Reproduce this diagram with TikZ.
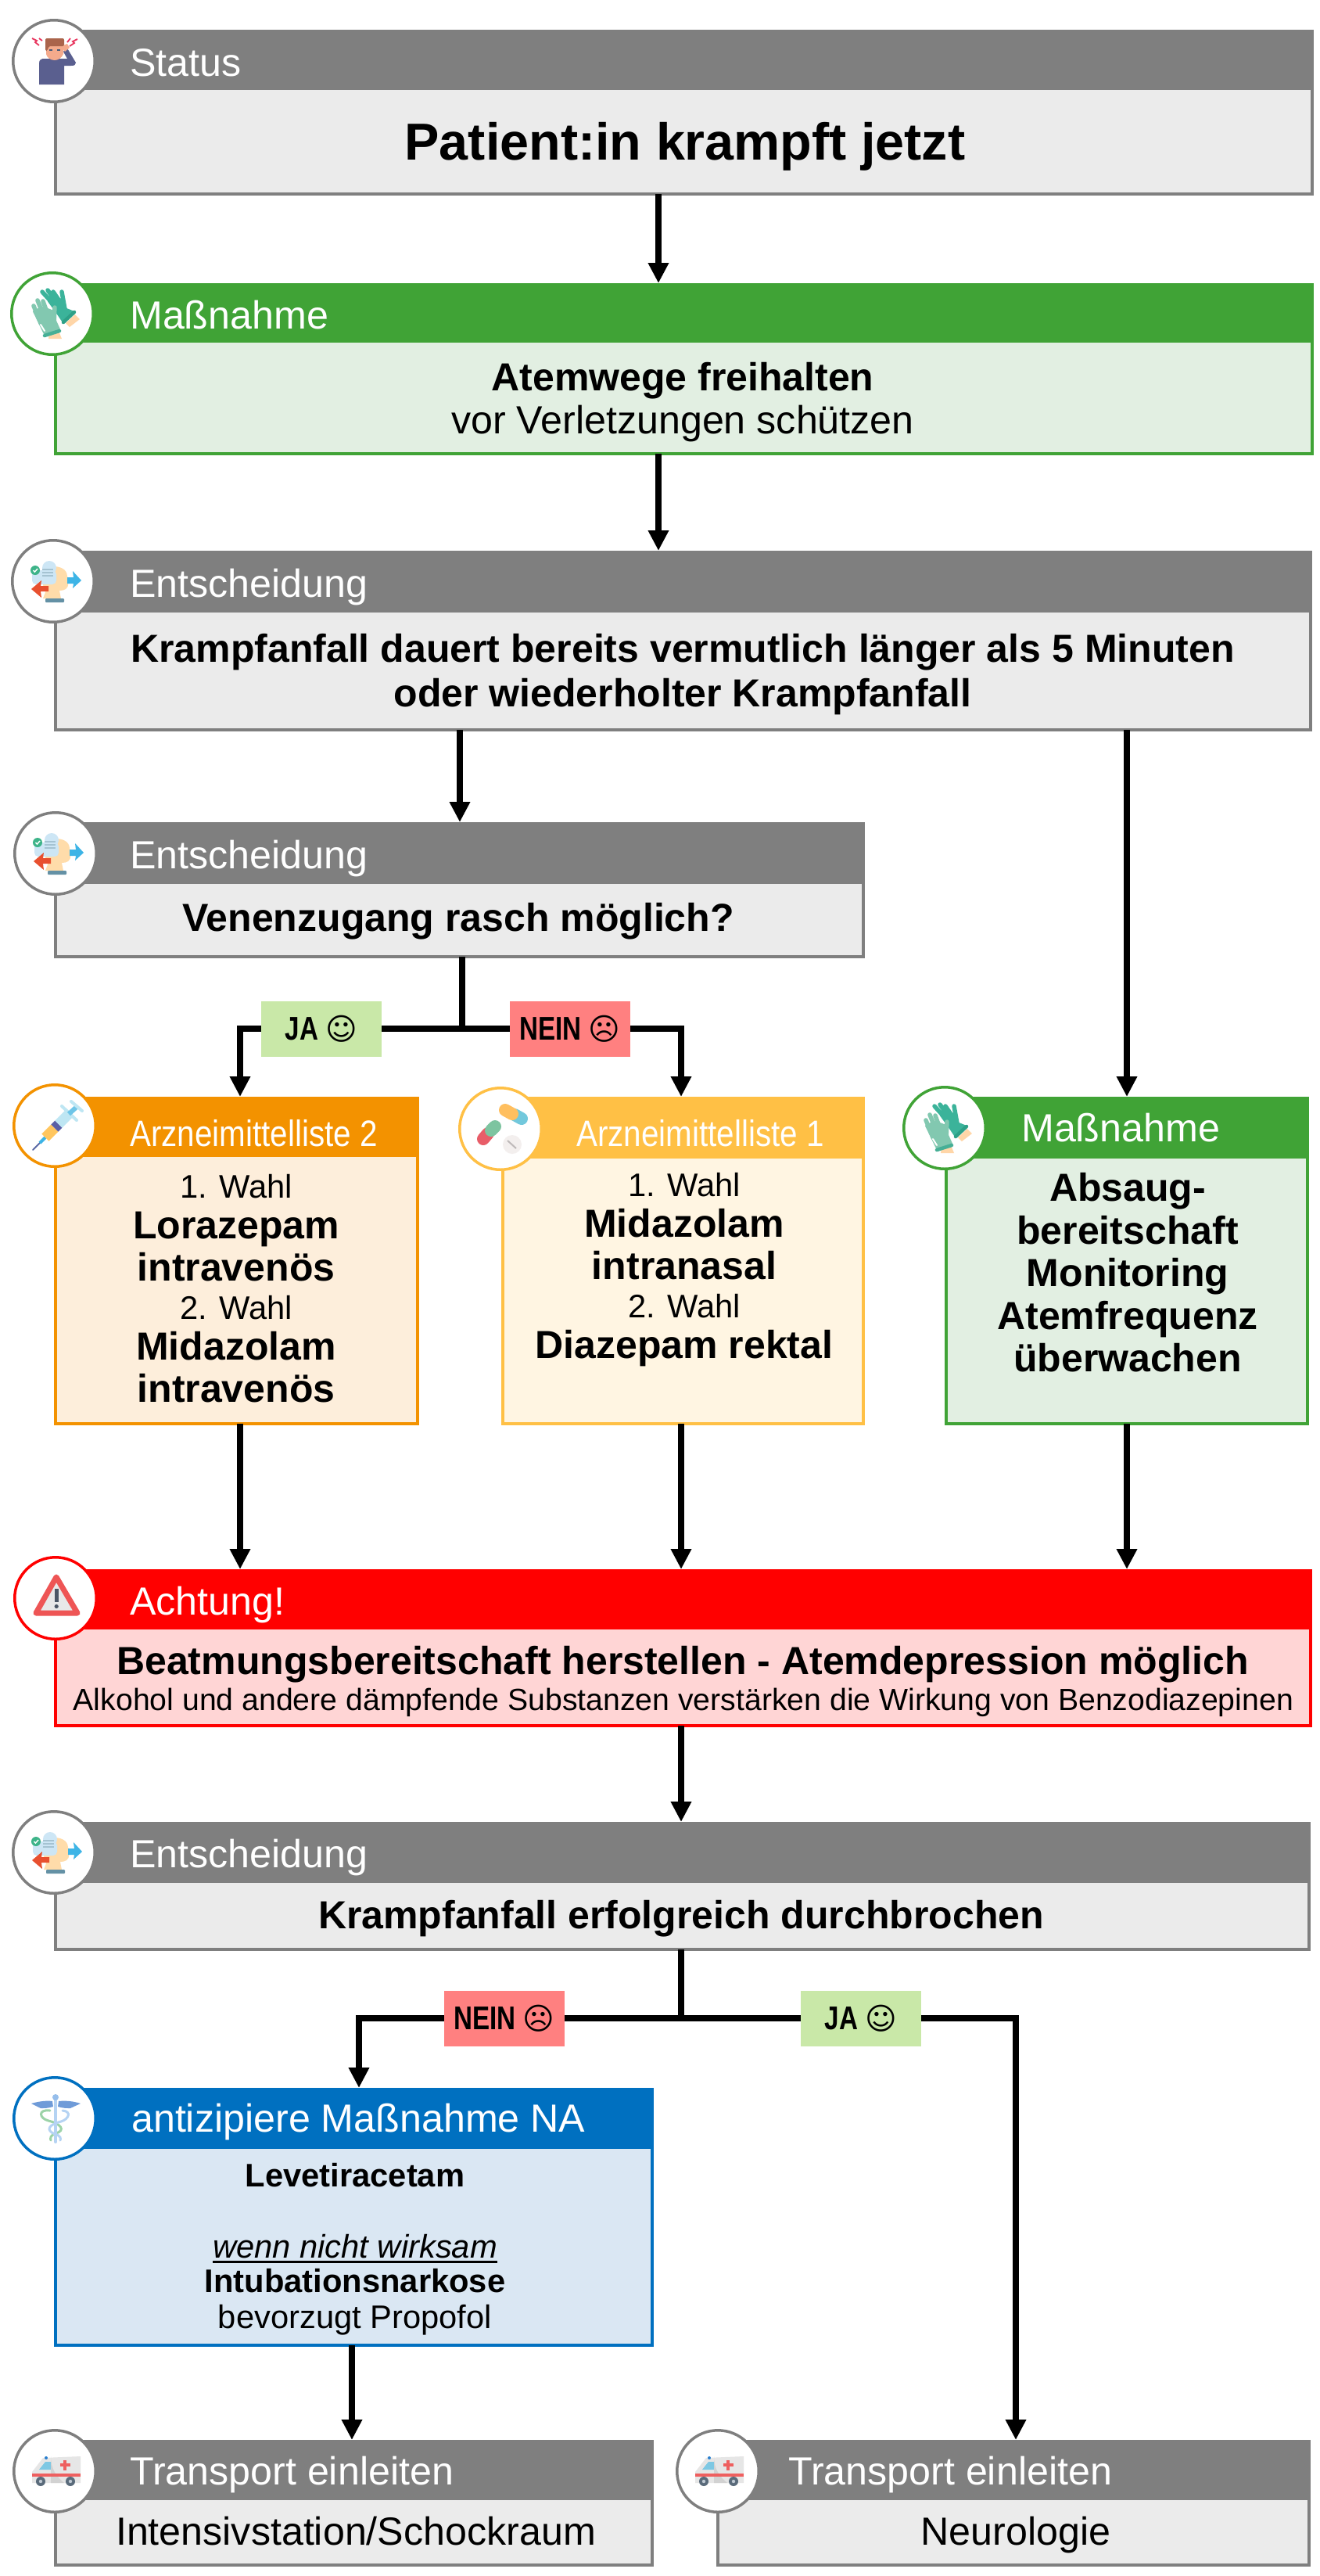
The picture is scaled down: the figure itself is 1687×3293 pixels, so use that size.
\documentclass[tikz,border=0pt]{standalone}
\usepackage{fontspec}
\setmainfont{Liberation Sans}
\newfontfamily\narrowfont[FakeStretch=0.79]{Liberation Sans}
\newfontfamily\titlenarrow[FakeStretch=0.86]{Liberation Sans}
\newfontfamily\symbolfont{DejaVu Sans}
\usetikzlibrary{arrows.meta}
\newsavebox\ulbox
\newcommand\thickul[1]{\sbox\ulbox{#1}\usebox\ulbox\hspace{-\wd\ulbox}\rule[-7pt]{\wd\ulbox}{2.6pt}}
\definecolor{ghead}{HTML}{7F7F7F}\definecolor{gbody}{HTML}{EBEBEB}
\definecolor{mhead}{HTML}{40A336}\definecolor{mbody}{HTML}{E2EFE2}
\definecolor{ohead}{HTML}{F39200}\definecolor{obody}{HTML}{FDEEDB}
\definecolor{ahead}{HTML}{FFC045}\definecolor{abody}{HTML}{FFF5E2}
\definecolor{rhead}{HTML}{FF0000}\definecolor{rbody}{HTML}{FFD5D5}
\definecolor{bhead}{HTML}{0070C0}\definecolor{bbody}{HTML}{DAE7F3}
\definecolor{jacol}{HTML}{C9E8A8}\definecolor{neincol}{HTML}{FF8080}
\tikzset{
  ttl/.style={font=\fontsize{50.2}{55}\selectfont,text=white,inner sep=0pt,anchor=base west},
  ttls/.style={font=\fontsize{47}{50}\selectfont\titlenarrow,text=white,inner sep=0pt,anchor=base west},
  bigb/.style={font=\fontsize{50}{55}\selectfont\bfseries,inner sep=0pt,anchor=base},
  bigr/.style={font=\fontsize{50.2}{55}\selectfont,inner sep=0pt,anchor=base},
  midb/.style={font=\fontsize{41.7}{46}\selectfont\bfseries,inner sep=0pt,anchor=base},
  midr/.style={font=\fontsize{41.7}{46}\selectfont,inner sep=0pt,anchor=base},
  ln/.style={line width=8pt,line cap=butt},
  arr/.style={line width=8pt,-{Triangle[length=26pt,width=25pt]},shorten >=2pt},
  yn/.style={minimum width=154pt,minimum height=71pt,inner sep=0pt,outer sep=0pt,font=\fontsize{42}{46}\selectfont\narrowfont\bfseries},
  rnd/.style={line cap=round,line join=round},
}
\newcommand\flowbox[8]{%
  \node[draw=#7,fill=#8,line width=4pt,inner sep=0pt,outer sep=0pt,minimum width={(#3)-(#2)},minimum height={(#6)-(#4)}] (#1) at ({((#2)+(#3))/2},{((#4)+(#6))/2}) {};
  \node[fill=#7,inner sep=0pt,outer sep=0pt,minimum width={(#3)-(#2)+4},minimum height={(#5)-(#4)}] (#1h) at ({((#2)+(#3))/2},{((#4)+(#5))/2}) {};
}
\newcommand\badge[4]{\node[circle,draw=#4,fill=white,line width=3.5pt,inner sep=0pt,minimum size=104.5pt] (#1c) at (#2,#3) {};}
\newcommand\iconHeadache{%
  \fill[rnd,color={rgb,255:red,90;green,95;blue,143}] (-19,30) -- (-19,3) .. controls (-19,-2) and (-16,-3) .. (-12,-3) -- (12,-3) -- (16,-3) -- (17,-3) -- (12,-12) -- (16,-18) -- (28,2) .. controls (28,5) and (26,6) .. (22,6) -- (13,6) -- (13,30) -- cycle;
  \fill[color={rgb,255:red,244;green,170;blue,140}] (-10,-22) -- (12,-22) -- (12,-9) .. controls (10,-4) and (5,-1) .. (1,-1) .. controls (-4,-1) and (-9,-4) .. (-10,-9) -- cycle;
  \fill[color={rgb,255:red,244;green,170;blue,140}] (9,-19) -- (17,-22) -- (20,-17) -- (14,-12) -- cycle;
  \fill[rounded corners=2pt,color={rgb,255:red,170;green,100;blue,75}] (-11,-29) -- (13,-29) -- (13,-19) -- (-7,-19) -- (-8,-13) -- (-11,-13) -- cycle;
  \fill[color={rgb,255:red,70;green,90;blue,120}] (-6,-15) rectangle (-2,-13);\fill[color={rgb,255:red,70;green,90;blue,120}] (4,-15) rectangle (8,-13);
  \draw[line width=1.8pt,color={rgb,255:red,232;green,55;blue,95}] (-28,-29) -- (-22,-26) -- (-24,-24) -- (-19,-20);
  \draw[line width=1.8pt,color={rgb,255:red,232;green,55;blue,95}] (-19,-29) -- (-15,-26);
  \draw[line width=1.8pt,color={rgb,255:red,232;green,55;blue,95}] (30,-28) -- (24,-25) -- (26,-23) -- (20,-19);
  \draw[line width=1.8pt,color={rgb,255:red,232;green,55;blue,95}] (21,-29) -- (17,-24);
}
\newcommand\iconGloves{%
  \fill[color={rgb,255:red,255;green,214;blue,168}] (29,1) -- (35,7) -- (22,17) -- (17,12) -- cycle;
  \fill[color={rgb,255:red,255;green,214;blue,168}] (-5,32) -- (12,32) -- (8,22) -- (-4,26) -- cycle;
  \filldraw[rnd,color={rgb,255:red,59;green,179;blue,154},line width=2pt] (-5,-16) -- (8,-14) -- (18,-6) -- (28,-2) -- (14,11) -- (8,2) -- cycle;
  \draw[rnd,line width=5.5pt,color={rgb,255:red,59;green,179;blue,154}] (-13,-28) -- (5,-8) (-6,-30) -- (9,-10) (1,-28) -- (12,-12) (12,-28) -- (16,-6);
  \draw[line width=4.5pt,line cap=round,color={rgb,255:red,45;green,160;blue,135}] (28,-2) -- (14,11);
  \filldraw[rnd,color={rgb,255:red,130;green,200;blue,176},line width=2pt] (-24,-3) -- (-10,26) -- (9,20) -- (4,9) -- (4,-2) -- (-6,-6) -- (-14,-8) -- cycle;
  \draw[rnd,line width=5.5pt,color={rgb,255:red,130;green,200;blue,176}] (-24,-10) -- (-15,12) (-19,-17) -- (-9,8) (-12,-16) -- (-4,6) (3,-8) -- (2,10);
  \draw[line width=2pt,line cap=round,white] (-15,14) -- (-10,22);
  \draw[line width=4.5pt,line cap=round,color={rgb,255:red,70;green,175;blue,150}] (-10,28) -- (9,22);
}
\newcommand\iconDecide{%
  \fill[color={rgb,255:red,255;green,220;blue,170}] (-13,22) -- (10,22) -- (8,12) .. controls (14,12) and (20,10) .. (19,2) -- (23,0) -- (18,-6) .. controls (18,-16) and (8,-19) .. (0,-19) .. controls (-10,-19) and (-15,-10) .. (-14,0) .. controls (-13,6) and (-11,10) .. (-10,14) -- cycle;
  \fill[rounded corners=1pt,color={rgb,255:red,100;green,145;blue,165}] (-10,22) rectangle (14,27);
  \fill[rounded corners=5pt,color={rgb,255:red,205;green,230;blue,245}] (-27,-14) rectangle (4,4);
  \fill[color={rgb,255:red,205;green,230;blue,245}] (-5,-17) circle (9);
  \fill[color={rgb,255:red,62;green,180;blue,137}] (-23,-14) circle (6);
  \draw[white,line width=1.4pt] (-25.5,-14) -- (-23.5,-12) -- (-20,-16);
  \draw[line width=1.2pt,color={rgb,255:red,165;green,195;blue,210}] (-14,-15) -- (0,-15) (-14,-11) -- (0,-11) (-14,-7) -- (0,-7);
  \fill[color={rgb,255:red,61;green,180;blue,230}] (18,-5) -- (26,-5) -- (25,-13) -- (36,-1) -- (25,9) -- (26,3) -- (18,3) -- cycle;
  \fill[color={rgb,255:red,232;green,80;blue,47}] (-6,6) -- (-16,6) -- (-15,-1) -- (-28,10) -- (-15,21) -- (-16,13) -- (-6,13) -- cycle;
}
\newcommand\iconSyringe{%
  \draw[line width=2pt,line cap=round,color={rgb,255:red,90;green,105;blue,165}] (-28,31) -- (-18,21);
  \draw[line width=4pt,color={rgb,255:red,61;green,180;blue,230}] (-19,22) -- (-12,15);
  \draw[line width=13pt,color={rgb,255:red,255;green,198;blue,95}] (-12,15) -- (0,3);
  \draw[line width=13pt,color={rgb,255:red,90;green,95;blue,165}] (0,3) -- (5,-2);
  \draw[line width=13pt,color={rgb,255:red,190;green,230;blue,243}] (5,-2) -- (20,-17);
  \draw[line width=4pt,line cap=round,color={rgb,255:red,190;green,230;blue,243}] (9,-25) -- (28,-7);
  \draw[line width=6pt,color={rgb,255:red,110;green,197;blue,232}] (18,-15) -- (28,-24);
  \draw[line width=4pt,line cap=round,color={rgb,255:red,190;green,230;blue,243}] (21,-31) -- (35,-19);
}
\newcommand\iconPills{%
  \draw[line width=16pt,line cap=round,color={rgb,255:red,114;green,200;blue,220}] (27,-13) -- (18,-18);
  \draw[line width=16pt,line cap=round,color={rgb,255:red,255;green,191;blue,95}] (6,-24) -- (15,-19);
  \draw[line width=16pt,line cap=round,color={rgb,255:red,232;green,93;blue,104}] (-22,13) -- (-16,6);
  \draw[line width=16pt,line cap=round,color={rgb,255:red,125;green,196;blue,160}] (-7,-3) -- (-12,2);
  \fill[color={rgb,255:red,243;green,239;blue,238}] (15,20) circle (12);
  \draw[line width=2pt,color={rgb,255:red,190;green,185;blue,185}] (9,15) -- (20,25);
}
\newcommand\iconWarn{%
  \draw[line width=7pt,line join=round,draw={rgb,255:red,238;green,85;blue,85},fill={rgb,255:red,232;green,232;blue,232}] (1,-27) -- (-25,19) -- (28,19) -- cycle;
  \fill[color={rgb,255:red,74;green,85;blue,100}] (-1.3,-12) rectangle (3.7,5);
  \fill[color={rgb,255:red,74;green,85;blue,100}] (1.2,10.5) circle (2.6);
}
\newcommand\iconCaduceus{%
  \fill[color={rgb,255:red,111;green,155;blue,216}] (-30,-19) .. controls (-20,-22) and (-10,-23) .. (-3,-22) -- (-2,-15) .. controls (-8,-13) and (-14,-13) .. (-18,-13) -- cycle;
  \fill[color={rgb,255:red,111;green,155;blue,216}] (33,-19) .. controls (24,-22) and (14,-23) .. (5,-22) -- (4,-15) .. controls (10,-13) and (16,-13) .. (20,-13) -- cycle;
  \draw[line width=3pt,line cap=round,color={rgb,255:red,156;green,211;blue,168}] (-6,-10) .. controls (-22,-12) and (-20,0) .. (-8,3) .. controls (8,7) and (14,15) .. (2,19) .. controls (-6,21) and (-6,26) .. (-5,28);
  \draw[line width=3pt,line cap=round,color={rgb,255:red,181;green,211;blue,243}] (10,-10) .. controls (22,-9) and (18,1) .. (8,4) .. controls (-8,8) and (-12,15) .. (0,20) .. controls (8,22) and (8,26) .. (7,28);
  \draw[line width=4pt,line cap=round,color={rgb,255:red,181;green,211;blue,243}] (1,-24) -- (1,30);
  \fill[color={rgb,255:red,150;green,190;blue,235}] (1,-27) circle (4);
}
\newcommand\iconAmbulance{%
  \fill[color={rgb,255:red,230;green,230;blue,230}] (-15,-17) -- (33,-19) -- (33,15) -- (-29,15) -- (-29,1) -- cycle;
  \fill[color={rgb,255:red,126;green,200;blue,227}] (-12,-12) -- (-5,-12) -- (-5,-2) -- (-20,-2) -- cycle;
  \fill[color={rgb,255:red,210;green,210;blue,210}] (-5,-19) .. controls (-5,-5) and (0,5) .. (12,15) -- (-5,15) -- cycle;
  \fill[color={rgb,255:red,238;green,95;blue,95}] (-29,3) rectangle (33,7);
  \fill[color={rgb,255:red,238;green,95;blue,95}] (6.5,-10) rectangle (19.5,-6);
  \fill[color={rgb,255:red,238;green,95;blue,95}] (11,-14.5) rectangle (15,-1.5);
  \fill[color={rgb,255:red,42;green,127;blue,207}] (-11,-17) circle (2);
  \fill[color={rgb,255:red,90;green,107;blue,123}] (-18,13) circle (6) (20,13) circle (6);
  \fill[color={rgb,255:red,190;green,200;blue,210}] (-18,13) circle (2.2) (20,13) circle (2.2);
}
\begin{document}
\begin{tikzpicture}[x=1pt,y=-1pt]
\path[use as bounding box,fill=white] (0,0) rectangle (1687,3293);

\flowbox{st}{71}{1678}{40}{115}{248}{ghead}{gbody}
\flowbox{ma}{71}{1678}{364}{438}{580}{mhead}{mbody}
\flowbox{en}{71}{1676}{706}{783}{933}{ghead}{gbody}
\flowbox{ve}{71}{1104}{1053}{1130}{1223}{ghead}{gbody}
\flowbox{alb}{71}{534}{1404}{1479}{1820}{ohead}{obody}
\flowbox{ala}{643}{1104}{1404}{1481}{1820}{ahead}{abody}
\flowbox{mr}{1210}{1672}{1404}{1481}{1820}{mhead}{mbody}
\flowbox{ac}{71}{1676}{2008}{2083}{2206}{rhead}{rbody}
\flowbox{ek}{71}{1674}{2331}{2407}{2492}{ghead}{gbody}
\flowbox{an}{71}{834}{2671}{2747}{2998}{bhead}{bbody}
\flowbox{tl}{71}{834}{3121}{3196}{3279}{ghead}{gbody}
\flowbox{tr}{918}{1674}{3121}{3196}{3279}{ghead}{gbody}

% connectors
\coordinate (xa) at (842,0);
\coordinate (xb) at (588,0);
\coordinate (xc) at (1441,0);
\coordinate (xd) at (307,0);
\coordinate (xe) at (871,0);
\coordinate (xf) at (459,0);
\coordinate (xg) at (1299,0);
\coordinate (xh) at (450,0);
\coordinate (ja) at (591,1315);
\coordinate (jb) at (871,2580);
\draw[arr] (xa |- st.south) -- (xa |- mah.north);
\draw[arr] (xa |- ma.south) -- (xa |- enh.north);
\draw[arr] (xb |- en.south) -- (xb |- veh.north);
\draw[arr] (xc |- en.south) -- (xc |- mrh.north);
\draw[ln] (ja |- ve.south) -- ([yshift=-4pt]ja);
\draw[arr] ([xshift=4pt]ja) -| (xd |- albh.north);
\draw[arr] ([xshift=-4pt]ja) -| (xe |- alah.north);
\draw[arr] (xd |- alb.south) -- (xd |- ach.north);
\draw[arr] (xe |- ala.south) -- (xe |- ach.north);
\draw[arr] (xc |- mr.south) -- (xc |- ach.north);
\draw[arr] (xe |- ac.south) -- (xe |- ekh.north);
\draw[ln] (jb |- ek.south) -- ([yshift=-4pt]jb);
\draw[arr] ([xshift=4pt]jb) -| (xf |- anh.north);
\draw[arr] ([xshift=-4pt]jb) -| (xg |- trh.north);
\draw[arr] (xh |- an.south) -- (xh |- tlh.north);

% yes/no labels
\node[yn,fill=jacol] (ja1) at (411,1315) {JA {\mdseries\symbolfont\fontsize{39}{40}\selectfont ☺}};
\node[yn,fill=neincol] (ne1) at (729,1315) {NEIN {\mdseries\symbolfont\fontsize{39}{40}\selectfont ☹}};
\node[yn,fill=neincol] (ne2) at (645,2580) {NEIN {\mdseries\symbolfont\fontsize{39}{40}\selectfont ☹}};
\node[yn,fill=jacol] (ja2) at (1101,2580) {JA {\mdseries\symbolfont\fontsize{39}{40}\selectfont ☺}};

% badges and icons
\badge{st}{69}{78}{ghead}
\begin{scope}[shift={(69,78)}]\iconHeadache\end{scope}
\badge{ma}{67}{401}{mhead}
\begin{scope}[shift={(67,401)}]\iconGloves\end{scope}
\badge{en}{68}{743}{ghead}
\begin{scope}[shift={(68,743)}]\iconDecide\end{scope}
\badge{ve}{71}{1091}{ghead}
\begin{scope}[shift={(71,1091)}]\iconDecide\end{scope}
\badge{alb}{70}{1439}{ohead}
\begin{scope}[shift={(70,1439)}]\iconSyringe\end{scope}
\badge{ala}{640}{1443}{ahead}
\begin{scope}[shift={(640,1443)}]\iconPills\end{scope}
\badge{mr}{1208}{1442}{mhead}
\begin{scope}[shift={(1208,1442)}]\iconGloves\end{scope}
\badge{ac}{71}{2043}{rhead}
\begin{scope}[shift={(71,2043)}]\iconWarn\end{scope}
\badge{ek}{69}{2368}{ghead}
\begin{scope}[shift={(69,2368)}]\iconDecide\end{scope}
\badge{an}{70}{2708}{bhead}
\begin{scope}[shift={(70,2708)}]\iconCaduceus\end{scope}
\badge{tl}{70}{3159}{ghead}
\begin{scope}[shift={(70,3159)}]\iconAmbulance\end{scope}
\badge{tr}{918}{3159}{ghead}
\begin{scope}[shift={(918,3159)}]\iconAmbulance\end{scope}

% titles
\node[ttl] (stt) at (166,97) {Status};
\node[ttl] (mat) at (166,420) {Maßnahme};
\node[ttl] (ent) at (166,763) {Entscheidung};
\node[ttl] (vet) at (166,1110) {Entscheidung};
\node[ttls] (albt) at (166,1465) {Arzneimittelliste 2};
\node[ttls] (alat) at (737,1465) {Arzneimittelliste 1};
\node[ttl] (mrt) at (1306,1459) {Maßnahme};
\node[ttl] (act) at (166,2064) {Achtung!};
\node[ttl] (ekt) at (166,2387) {Entscheidung};
\node[ttl] (ant) at (168,2725) {antizipiere Maßnahme NA};
\node[ttl] (tlt) at (166,3176) {Transport einleiten};
\node[ttl] (trt) at (1008,3176) {Transport einleiten};

% body texts
\node[font=\fontsize{66.5}{70}\selectfont\bfseries,inner sep=0pt,anchor=base] (st1) at (876,204) {Patient:in krampft jetzt};
\node[bigb] (ma1) at (873,499) {Atemwege freihalten};
\node[bigr] (ma2) at (873,554) {vor Verletzungen schützen};
\node[bigb] (en1) at (873,846) {Krampfanfall dauert bereits vermutlich länger als 5 Minuten};
\node[bigb] (en2) at (873,903) {oder wiederholter Krampfanfall};
\node[bigb] (ve1) at (586,1190) {Venenzugang rasch möglich?};
\node[midr] (alb1) at (302,1531) {1. Wahl};
\node[bigb] (alb2) at (302,1583) {Lorazepam};
\node[bigb] (alb3) at (302,1637) {intravenös};
\node[midr] (alb4) at (302,1686) {2. Wahl};
\node[bigb] (alb5) at (302,1738) {Midazolam};
\node[bigb] (alb6) at (302,1792) {intravenös};
\node[midr] (ala1) at (875,1529) {1. Wahl};
\node[bigb] (ala2) at (875,1581) {Midazolam};
\node[bigb] (ala3) at (875,1635) {intranasal};
\node[midr] (ala4) at (875,1684) {2. Wahl};
\node[bigb] (ala5) at (875,1736) {Diazepam rektal};
\node[bigb] (mr1) at (1442,1535) {Absaug-};
\node[bigb] (mr2) at (1442,1590) {bereitschaft};
\node[bigb] (mr3) at (1442,1644) {Monitoring};
\node[bigb] (mr4) at (1442,1699) {Atemfrequenz};
\node[bigb] (mr5) at (1442,1753) {überwachen};
\node[bigb] (ac1) at (873,2140) {Beatmungsbereitschaft herstellen - Atemdepression möglich};
\node[font=\fontsize{39.2}{42}\selectfont,inner sep=0pt,anchor=base] (ac2) at (874,2186) {Alkohol und andere dämpfende Substanzen verstärken die Wirkung von Benzodiazepinen};
\node[bigb] (ek1) at (871,2465) {Krampfanfall erfolgreich durchbrochen};
\node[midb] (an1) at (454,2795) {Levetiracetam};
\node[midr] (an2) at (454,2886) {\itshape\thickul{wenn nicht wirksam}};
\node[midb] (an3) at (454,2930) {Intubationsnarkose};
\node[midr] (an4) at (454,2976) {bevorzugt Propofol};
\node[bigr] (tl1) at (455,3253) {Intensivstation/Schockraum};
\node[bigr] (tr1) at (1299,3253) {Neurologie};
\end{tikzpicture}
\end{document}
